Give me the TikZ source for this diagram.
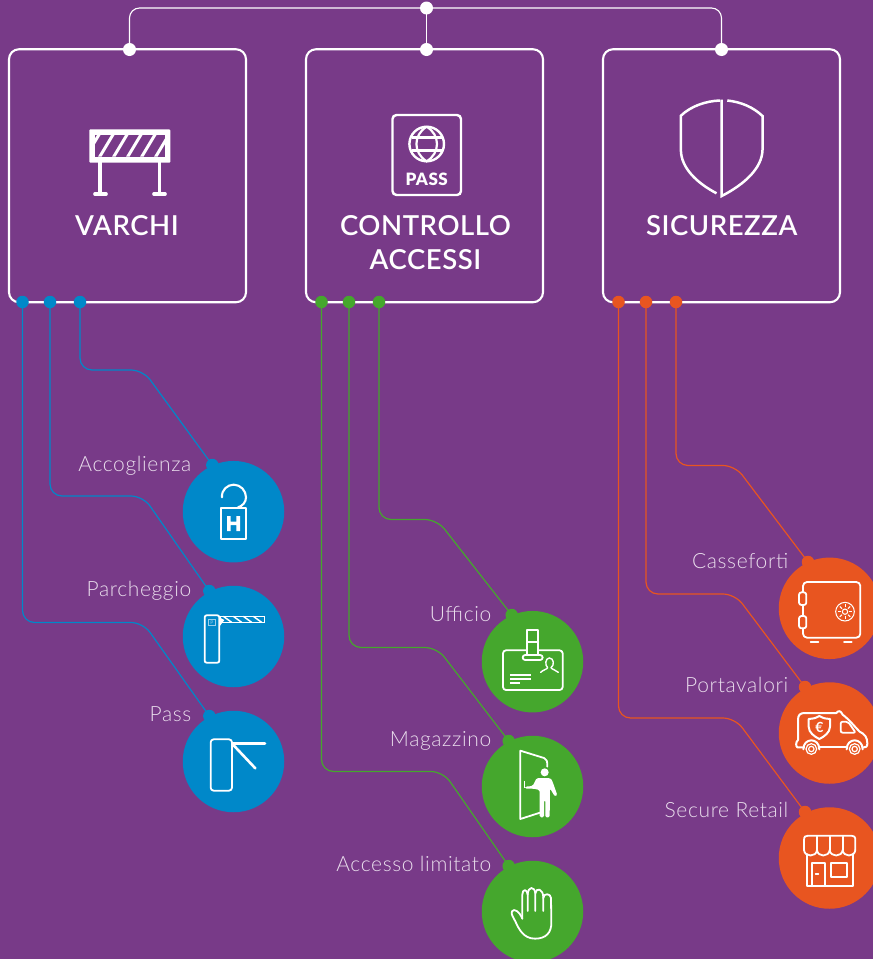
\documentclass[tikz,border=0pt]{standalone}
\usepackage{fontspec}
\setmainfont{Lato}
\newfontfamily\lightf[LetterSpace=3]{Lato Light}
\newfontfamily\medf[LetterSpace=2]{Lato Semibold}
\newfontfamily\passf[LetterSpace=3]{Lato Black}
\definecolor{bgp}{HTML}{783A88}
\definecolor{cb}{HTML}{0088C9}
\definecolor{cg}{HTML}{45A72D}
\definecolor{co}{HTML}{E85520}
\definecolor{lbl}{HTML}{E9DDEC}
\tikzset{
  x=1pt,y=-1pt,
  card/.style={draw=white,line width=2.1pt,rounded corners=10pt,minimum width=237pt,minimum height=253pt,inner sep=0pt},
  wdot/.style={circle,fill=white,inner sep=0pt,minimum size=13pt},
  pdot/.style={circle,fill=#1,inner sep=0pt,minimum size=12.5pt},
  big/.style={circle,fill=#1,inner sep=0pt,minimum size=101.5pt},
  title/.style={text=white,anchor=base,font=\medf\fontsize{27.5}{32}\selectfont,inner sep=0pt},
  lab/.style={text=lbl,anchor=base east,font=\lightf\fontsize{21}{24}\selectfont,inner sep=0pt},
  link/.style={draw=#1,line width=1.2pt,rounded corners=12pt},
  ic/.style={draw=white,line width=1.8pt,line join=round,line cap=round},
  icb/.style={draw=white,line width=2.6pt,line join=round,line cap=round},
}
\begin{document}
\begin{tikzpicture}
\useasboundingbox (0,0) rectangle (873,959);
\fill[bgp] (0,0) rectangle (873,959);
% cards
\node[card] (c1) at (127.5,175.75) {};
\node[card] (c2) at (424.5,175.75) {};
\node[card] (c3) at (721.5,175.75) {};
% top links
\node[wdot] (top) at (426.5,8) {};
\node[wdot] (t1) at (129.5,49.5) {};
\node[wdot] (t2) at (426.5,49.5) {};
\node[wdot] (t3) at (721.5,49.5) {};
\draw[white,line width=1.1pt,rounded corners=10pt] (t1.center) -- (129.5,8) -- (721.5,8) -- (t3.center);
\draw[white,line width=1.1pt] (top.center) -- (t2.center);
% bottom dots
\node[pdot=cb] (b1) at (22.5,302) {};
\node[pdot=cb] (b2) at (50,302) {};
\node[pdot=cb] (b3) at (80,302) {};
\node[pdot=cg] (g1) at (321.5,302) {};
\node[pdot=cg] (g2) at (349,302) {};
\node[pdot=cg] (g3) at (379,302) {};
\node[pdot=co] (o1) at (618.5,302) {};
\node[pdot=co] (o2) at (646,302) {};
\node[pdot=co] (o3) at (676,302) {};
% circles
\node[big=cb] (hotel) at (233.5,511.7) {};
\node[big=cb] (park) at (233.5,636.5) {};
\node[big=cb] (pass) at (233.5,761.5) {};
\node[big=cg] (uff) at (532.5,661.7) {};
\node[big=cg] (mag) at (532.5,786.5) {};
\node[big=cg] (lim) at (532.5,911.5) {};
\node[big=co] (safe) at (829.5,608.3) {};
\node[big=co] (van) at (829.5,733) {};
\node[big=co] (shop) at (829.5,858) {};
\node[pdot=cb] (d1) at (212.3,465) {};
\node[pdot=cb] (d2) at (209.3,591) {};
\node[pdot=cb] (d3) at (209.3,716) {};
\node[pdot=cg] (d4) at (511.7,615) {};
\node[pdot=cg] (d5) at (508.7,741) {};
\node[pdot=cg] (d6) at (508.7,866) {};
\node[pdot=co] (d7) at (808,562) {};
\node[pdot=co] (d8) at (805,687) {};
\node[pdot=co] (d9) at (805,812) {};
% connectors
\draw[link=cb] (b3.center) -- (80,370) -- (143,370) -- (d1.center);
\draw[link=cb] (b2.center) -- (50,496) -- (143,496) -- (d2.center);
\draw[link=cb] (b1.center) -- (22.5,622.5) -- (143,622.5) -- (d3.center);
\draw[link=cg] (g3.center) -- (379,519.5) -- (437,519.5) -- (d4.center);
\draw[link=cg] (g2.center) -- (349,647.5) -- (437,647.5) -- (d5.center);
\draw[link=cg] (g1.center) -- (321.5,771.5) -- (443,771.5) -- (d6.center);
\draw[link=co] (o3.center) -- (676,465.5) -- (735,465.5) -- (d7.center);
\draw[link=co] (o2.center) -- (646,594) -- (735,594) -- (d8.center);
\draw[link=co] (o1.center) -- (618.5,718) -- (735,718) -- (d9.center);
% titles
\node[title] (tv) at (127,235) {VARCHI};
\node[title] (tc) at (425.5,235) {CONTROLLO};
\node[title] (ta) at (425.5,269.3) {ACCESSI};
\node[title] (ts) at (721.7,235) {SICUREZZA};
% labels
\node[lab] (l1) at (191.5,471.7) {Accoglienza};
\node[lab] (l2) at (191.5,596.7) {Parcheggio};
\node[lab] (l3) at (191.5,721.7) {Pass};
\node[lab] (l4) at (491.5,621.7) {Ufficio};
\node[lab] (l5) at (491.5,746.7) {Magazzino};
\node[lab] (l6) at (491.5,871.7) {Accesso limitato};
\node[lab] (l7) at (788.5,568.3) {Casseforti};
\node[lab] (l8) at (788.5,692.7) {Portavalori};
\node[lab] (l9) at (788.5,817.7) {Secure Retail};
% barrier icon
\fill[white,rounded corners=1pt] (89.3,129.3) rectangle (170.3,162.7);
\fill[bgp] (95,135) rectangle (165,156.7);
\begin{scope}
\clip (95,135) rectangle (165,156.7);
\foreach \s in {84,98,112,126,140,154}{\fill[white] (\s,156.7) -- (\s+3.5,156.7) -- (\s+16.5,135) -- (\s+13,135) -- cycle;}
\end{scope}
\fill[white] (98.3,162) rectangle (102,194);
\fill[white] (157.5,162) rectangle (161.2,194);
\draw[white,line width=3.2pt,line cap=round] (94.8,194) -- (106.2,194);
\draw[white,line width=3.2pt,line cap=round] (153.8,194) -- (165.2,194);
% passport icon
\draw[white,line width=2.4pt,rounded corners=4pt] (392.5,115) rectangle (461,195);
\draw[white,line width=2.4pt] (426.7,144) circle (17.3);
\draw[white,line width=2.2pt] (426.7,126.7) .. controls (413,135) and (413,153) .. (426.7,161.3) .. controls (440.4,153) and (440.4,135) .. (426.7,126.7);
\draw[white,line width=2.2pt] (412,137.5) -- (441.5,137.5) (412,150.5) -- (441.5,150.5);
\node[text=white,inner sep=0pt,font=\passf\fontsize{17}{20}\selectfont,anchor=base] (ptxt) at (426.7,185) {PASS};
% shield icon
\draw[white,line width=2.5pt,line cap=butt,line join=miter] (720,100.5) .. controls (706,101) and (691,106) .. (680.9,115.7) -- (680.9,150) .. controls (681,168) and (697,183) .. (716.5,193.3);
\draw[white,line width=2.5pt,line join=miter] (721.7,99.5) -- (721.7,196) .. controls (745,184) and (762,168) .. (762.5,150) -- (762.5,116) .. controls (753,107) and (741,102) .. (727.3,100.5);
% hanger icon
\begin{scope}[shift={(170,450)},scale=1/3]
\draw[ic] (153,175) rectangle (229,268);
\draw[ic,line width=2.1pt] (156,142) .. controls (154,120) and (172,104) .. (191,104) .. controls (212,104) and (228,122) .. (228,142) .. controls (228,156) and (218,168) .. (204,172);
\fill[white] (171,198) rectangle (182,243) (199,198) rectangle (210,243) (171,215) rectangle (210,225);
\end{scope}
% boom barrier icon
\begin{scope}[shift={(170,450)},scale=1/3]
\draw[ic,rounded corners=2pt] (104,496) rectangle (148,638);
\draw[white!60!cb,line width=1pt] (116,509) rectangle (136,527);
\node[text=white!60!cb,inner sep=0pt,font=\fontsize{5}{6}\selectfont] (pk) at (126,518) {P};
\fill[white] (148,502) -- (163,510) -- (148,530) -- cycle;
\draw[white,line width=1.4pt] (150,499) rectangle (283,517);
\foreach \s in {160,190,220,250}{\draw[white,line width=1.5pt] (\s,499) -- (\s+25,517);}
\end{scope}
% turnstile icon
\begin{scope}[shift={(170,450)},scale=1/3]
\draw[ic,rounded corners=3pt] (122,868) rectangle (186,1022);
\draw[icb] (188,881) -- (285,881);
\draw[icb] (190,885) -- (256,955);
\end{scope}
% badge icon
\begin{scope}[shift={(470,600)},scale=1/3]
\draw[ic,rounded corners=3pt] (99,151) rectangle (278,270);
\draw[ic,fill=cg] (172,90) rectangle (205,165);
\draw[ic] (172,125) -- (205,125);
\draw[ic,fill=cg,rounded corners=2.5pt] (158,165) rectangle (218,180);
\draw[ic,line width=1.4pt] (238,174) .. controls (226,174) and (224,196) .. (233,203) .. controls (231,208) and (218,210) .. (212,217);
\draw[ic,line width=1.4pt] (238,174) .. controls (252,174) and (254,196) .. (243,203) .. controls (245,208) and (258,210) .. (265,217);
\draw[white,line width=1.8pt] (120,226) -- (183,226) (120,238) -- (183,238) (120,250) -- (150,250);
\end{scope}
% door icon
\begin{scope}[shift={(470,600)},scale=1/3]
\draw[ic] (210,638) -- (151,657) -- (151,452) -- (222,474) .. controls (230,477) and (232,482) .. (232,500);
\fill[white] (224,517) circle (12);
\fill[white,rounded corners=1.5pt] (200,534) -- (240,534) .. controls (246,540) and (248,545) .. (262,586) -- (255,590) -- (240,565) -- (239,652) -- (226,652) -- (226,600) -- (222,600) -- (222,652) -- (209,652) -- (209,570) -- (190,566) -- (165,566) -- (165,560) -- (188,558) -- cycle;
\draw[white,line width=1pt] (163,543) -- (163,563);
\end{scope}
% hand icon
\begin{scope}[shift={(470,600)},scale=1/3]
\draw[ic] (157,956) .. controls (148,934) and (132,924) .. (126,934) .. controls (122,942) and (130,952) .. (136,964) .. controls (146,986) and (160,1016) .. (195,1016) .. controls (228,1016) and (245,998) .. (244,966) -- (243,894) .. controls (243,880) and (220,878) .. (220,894) -- (220,933);
\draw[ic] (157,956) -- (157,884) .. controls (157,866) and (172,866) .. (173,884) -- (173,933);
\draw[ic] (173,884) .. controls (174,858) and (194,858) .. (196,880) -- (196,933);
\draw[ic] (196,880) .. controls (198,862) and (220,864) .. (220,894);
\end{scope}
% safe icon
\begin{scope}[shift={(768,550)},scale=1/3]
\draw[ic,rounded corners=4pt] (105,127) -- (105,96) -- (277,96) -- (277,263) -- (105,263) -- (105,235);
\draw[ic] (105,165) -- (105,198);
\draw[ic,rounded corners=2.5pt] (93,127) rectangle (115,165);
\draw[ic,rounded corners=2.5pt] (93,198) rectangle (115,235);
\draw[ic] (128,277) -- (151,277) (228,277) -- (251,277);
\draw[white,line width=1pt] (231,185) circle (28);
\draw[white,line width=1pt] (231,185) circle (8);
\foreach \a in {0,45,...,315}{\draw[white,line width=1pt] (231,185) ++(\a:13) -- ++(\a:9);}
\end{scope}
% van icon
\begin{scope}[shift={(768,550)},scale=1/3]
\draw[ic,line width=2pt] (108,592) -- (88,592) .. controls (83,590) and (83,575) .. (90,570) -- (90,510) .. controls (90,495) and (96,489) .. (110,489) -- (205,489) .. controls (212,480) and (218,482) .. (224,494) .. controls (245,510) and (260,530) .. (275,545) .. controls (290,552) and (298,562) .. (298,580) .. controls (298,590) and (295,592) .. (285,592);
\draw[ic,line width=2pt] (152,592) -- (238,592);
\draw[ic,line width=2pt] (106,598) .. controls (106,562) and (154,562) .. (154,598);
\draw[ic,line width=2pt] (236,598) .. controls (236,562) and (284,562) .. (284,598);
\draw[white,line width=1.2pt] (130,597) circle (16) (130,597) circle (8);
\draw[white,line width=1.2pt] (260,597) circle (16) (260,597) circle (8);
\draw[ic,rounded corners=2pt] (218,515) -- (240,515) -- (263,548) -- (218,548) -- cycle;
\draw[ic,line width=2pt] (154,498) .. controls (142,505) and (132,507) .. (122,507) -- (122,530) .. controls (122,548) and (140,560) .. (154,567) .. controls (168,560) and (186,548) .. (186,530) -- (186,507) .. controls (176,507) and (166,505) .. (154,498) -- cycle;
\node[text=white,inner sep=0pt,font=\fontsize{14}{16}\bfseries\selectfont] (eur) at (154,533) {€};
\end{scope}
% shop icon
\begin{scope}[shift={(768,550)},scale=1/3]
\draw[ic] (108,900) -- (108,870) .. controls (108,860) and (112,857) .. (120,857) -- (250,857) .. controls (258,857) and (262,860) .. (262,870) -- (262,900);
\draw[ic] (108,900) .. controls (110,922) and (145,922) .. (147,900) .. controls (149,922) and (183,922) .. (185,900) .. controls (187,922) and (222,922) .. (224,900) .. controls (226,922) and (260,922) .. (262,900);
\draw[ic] (147,900) -- (147,860) (185,900) -- (185,860) (224,900) -- (224,860);
\draw[ic] (117,912) -- (117,1008) -- (255,1008) -- (255,912);
\draw[ic] (133,1008) -- (133,940) -- (170,940) -- (170,1008);
\draw[ic] (190,938) rectangle (237,982);
\draw[ic] (143,972) -- (151,972);
\end{scope}
\end{tikzpicture}
\end{document}
